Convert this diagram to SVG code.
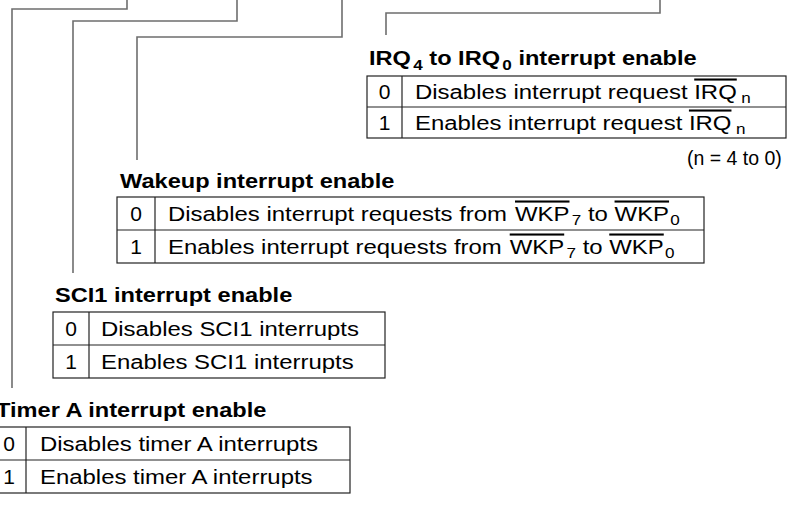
<svg xmlns="http://www.w3.org/2000/svg" width="793" height="506" viewBox="0 0 793 506">
<style>
.conn{fill:none;stroke:#6e6e6e;stroke-width:1.6}
.tbl{fill:none;stroke:#222;stroke-width:1.2}
.head{font-family:"Liberation Sans",Arial,sans-serif;font-weight:bold;font-size:20.7px;fill:#000}
.cell{font-family:"Liberation Sans",Arial,sans-serif;font-size:21px;fill:#000}
.note{font-family:"Liberation Sans",Arial,sans-serif;font-size:19.5px;fill:#000}
.num{text-anchor:middle}
.sub{font-size:15px}
.ov{text-decoration:overline}
</style>
<rect width="793" height="506" fill="#fff"/>
<g id="connectors">
<polyline class="conn" points="127,0 127,9 12,9 12,388"/>
<polyline class="conn" points="237,0 237,21 73,21 73,273"/>
<polyline class="conn" points="342,0 342,37 137,37 137,160"/>
<polyline class="conn" points="660,0 660,13 386,13 386,35"/>
</g>
<g id="irq">
<text class="head" transform="translate(369 65) scale(1.14 1)">IRQ<tspan class="sub" dx="2" dy="5">4</tspan><tspan dy="-5"> to IRQ</tspan><tspan class="sub" dx="2" dy="5">0</tspan><tspan dy="-5"> interrupt enable</tspan></text>
<rect class="tbl" x="367" y="76" width="419" height="62"/>
<line class="tbl" x1="367" y1="107" x2="786" y2="107"/>
<line class="tbl" x1="402" y1="76" x2="402" y2="138"/>
<text class="cell num" x="384.5" y="99">0</text>
<text class="cell" transform="translate(415 99) scale(1.14 1)">Disables interrupt request <tspan class="ov">IRQ</tspan><tspan class="sub" dx="4" dy="4">n</tspan></text>
<text class="cell num" x="384.5" y="130">1</text>
<text class="cell" transform="translate(415 130) scale(1.14 1)">Enables interrupt request <tspan class="ov">IRQ</tspan><tspan class="sub" dx="4" dy="4">n</tspan></text>
<text class="note" x="687" y="165">(n = 4 to 0)</text>
</g>
<g id="wakeup">
<text class="head" transform="translate(120 188) scale(1.14 1)">Wakeup interrupt enable</text>
<rect class="tbl" x="117" y="197" width="587" height="66"/>
<line class="tbl" x1="117" y1="230" x2="704" y2="230"/>
<line class="tbl" x1="155" y1="197" x2="155" y2="263"/>
<text class="cell num" x="136" y="221">0</text>
<text class="cell" transform="translate(168 221) scale(1.14 1)">Disables interrupt requests from<tspan class="ov" dx="7">WKP</tspan><tspan class="sub" dx="2" dy="4">7</tspan><tspan dy="-4"> to </tspan><tspan class="ov">WKP</tspan><tspan class="sub" dx="1" dy="4">0</tspan></text>
<text class="cell num" x="136" y="254">1</text>
<text class="cell" transform="translate(168 254) scale(1.14 1)">Enables interrupt requests from<tspan class="ov" dx="7">WKP</tspan><tspan class="sub" dx="2" dy="4">7</tspan><tspan dy="-4"> to </tspan><tspan class="ov">WKP</tspan><tspan class="sub" dx="1" dy="4">0</tspan></text>
</g>
<g id="sci1">
<text class="head" transform="translate(55 302) scale(1.14 1)">SCI1 interrupt enable</text>
<rect class="tbl" x="53" y="312" width="332" height="66"/>
<line class="tbl" x1="53" y1="345" x2="385" y2="345"/>
<line class="tbl" x1="89" y1="312" x2="89" y2="378"/>
<text class="cell num" x="71" y="336">0</text>
<text class="cell" transform="translate(101 336) scale(1.14 1)">Disables SCI1 interrupts</text>
<text class="cell num" x="71" y="369">1</text>
<text class="cell" transform="translate(101 369) scale(1.14 1)">Enables SCI1 interrupts</text>
</g>
<g id="timera">
<text class="head" transform="translate(-4 417) scale(1.14 1)">Timer A interrupt enable</text>
<rect class="tbl" x="-2" y="427" width="352" height="66"/>
<line class="tbl" x1="-2" y1="460" x2="350" y2="460"/>
<line class="tbl" x1="26" y1="427" x2="26" y2="493"/>
<text class="cell num" x="9" y="451">0</text>
<text class="cell" transform="translate(40 451) scale(1.14 1)">Disables timer A interrupts</text>
<text class="cell num" x="9" y="484">1</text>
<text class="cell" transform="translate(40 484) scale(1.14 1)">Enables timer A interrupts</text>
</g>
</svg>
